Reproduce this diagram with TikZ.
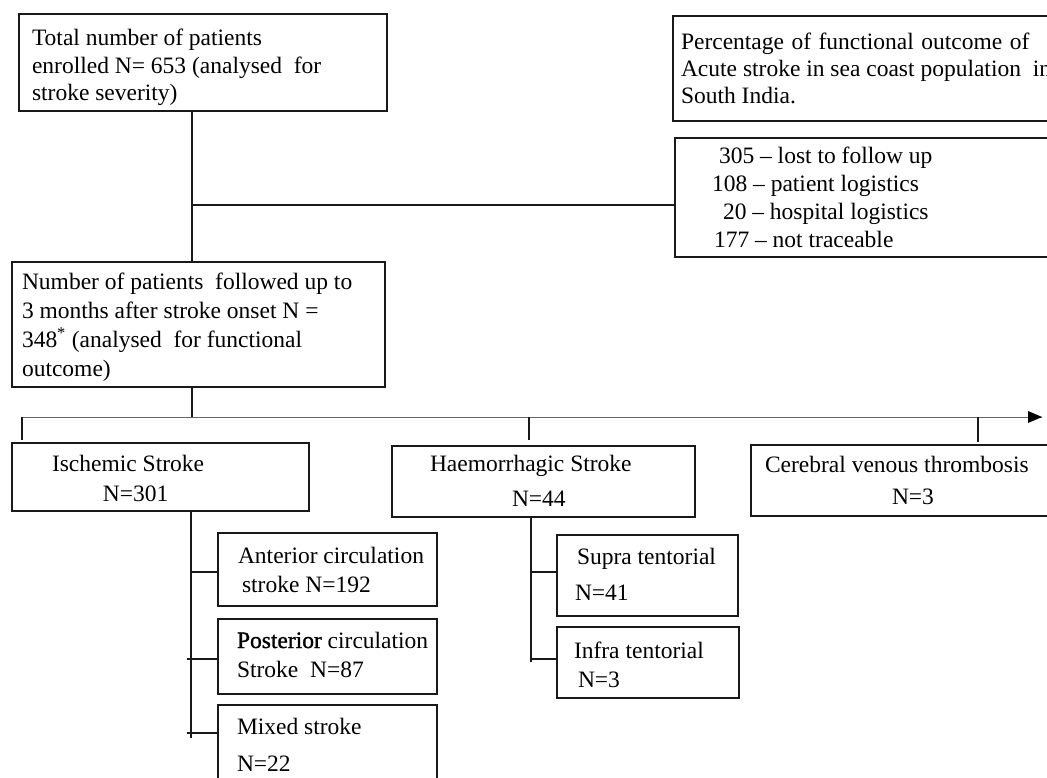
\documentclass[tikz,border=0pt]{standalone}
\usepackage{fontspec}
\setmainfont{Liberation Serif}
\newfontfamily\semibfont[FakeBold=1.2]{Liberation Serif}
\usetikzlibrary{arrows.meta,calc}
\newcommand\txtfs[1]{\fontsize{23.5}{#1}\selectfont}
\newcommand\mystrut{\rule{0pt}{20pt}}
\newcommand\wsp{\hspace{7.5pt}}
\begin{document}
\begin{tikzpicture}[x=1pt,y=-1pt,
  box/.style={draw=black!90, line width=1.5pt, rectangle, inner sep=0pt, outer sep=0pt, anchor=north west},
  txt/.style={anchor=north west, inner sep=0pt, outer sep=0pt, align=left, text=black},
  con/.style={line width=1.2pt, draw=black!90},
  busline/.style={line width=1pt, draw=black!60},
]
\useasboundingbox (0,0) rectangle (1047,778);
\clip (0,0) rectangle (1047,778);

% boxes
\node[box, minimum width=368pt, minimum height=97pt]  (total) at (19,14) {};
\node[box, minimum width=392pt, minimum height=105pt] (pct)   at (673,16) {};
\node[box, minimum width=390pt, minimum height=119pt] (lost)  at (675,138) {};
\node[box, minimum width=373pt, minimum height=125pt] (fu)    at (12,262) {};
\node[box, minimum width=297pt, minimum height=68pt]  (isch)  at (12,443) {};
\node[box, minimum width=303pt, minimum height=71pt]  (haem)  at (392,446) {};
\node[box, minimum width=314pt, minimum height=71pt]  (cvt)   at (751,445) {};
\node[box, minimum width=219pt, minimum height=73pt]  (ant)   at (218,533) {};
\node[box, minimum width=219pt, minimum height=75pt]  (post)  at (218,619) {};
\node[box, minimum width=219pt, minimum height=95pt]  (mixed) at (218,705) {};
\node[box, minimum width=181pt, minimum height=81pt]  (supra) at (557,535) {};
\node[box, minimum width=182pt, minimum height=71pt]  (infra) at (557,627) {};

% texts
\node[txt, font=\txtfs{27.5}] (totaltxt) at (32,26)
  {\mystrut Total number of patients\\enrolled N= 653 (analysed\ \ for\\stroke severity)};
\node[txt, font=\txtfs{27}] (pcttxt) at (681,30)
  {\mystrut Percentage\wsp of\wsp functional\wsp outcome\wsp of\\Acute stroke in sea coast population\ \ in\\South India.};
\node[txt, font=\txtfs{27.7}] (losttxt) at (712,144)
  {\mystrut\hspace*{7pt}305 – lost to follow up\\108 – patient logistics\\\hspace*{11pt}20 – hospital logistics\\\hspace*{2pt}177 – not traceable};
\node[txt, font=\txtfs{29.3}] (futxt) at (22,269)
  {\mystrut Number of patients\ \ followed up to\\3 months after stroke onset N =\\348\textsuperscript{*} (analysed\ \ for functional\\outcome)};
\node[txt, font=\txtfs{30}] (ischtxt) at (52,451)
  {\mystrut Ischemic Stroke\\\hspace*{51pt}N=301};
\node[txt, font=\txtfs{35}] (haemtxt) at (430,451)
  {\mystrut Haemorrhagic Stroke\\\hspace*{82pt}N=44};
\node[txt, font=\txtfs{32}] (cvttxt) at (765,452)
  {\mystrut Cerebral venous thrombosis\\\hspace*{127pt}N=3};
\node[txt, font=\txtfs{29}] (anttxt) at (238,543)
  {\mystrut Anterior circulation\\\hspace*{4pt}stroke N=192};
\node[txt, font=\txtfs{29}] (posttxt) at (237,628)
  {\mystrut{\semibfont Posterior} circulation\\Stroke\ \ N=87};
\node[txt, font=\txtfs{37}] (mixedtxt) at (237,714)
  {\mystrut Mixed stroke\\N=22};
\node[txt, font=\txtfs{36}] (supratxt) at (575,544)
  {\mystrut\hspace*{2pt}Supra tentorial\\N=41};
\node[txt, font=\txtfs{29}] (infratxt) at (574,638)
  {\mystrut Infra tentorial\\\hspace*{4pt}N=3};

% top connectors
\coordinate (j1) at (192,205);
\draw[con] (total.south -| j1) -- (fu.north -| j1);
\draw[con] (j1) -- (lost.west |- j1);

% bus
\coordinate (busL) at (22,417);
\coordinate (busM) at (192,417);
\coordinate (busR) at (1042,417);
\coordinate (tkH) at (529,417);
\coordinate (tkC) at (978,417);
\draw[con] (fu.south -| busM) -- (busM);
\draw[busline] (busL) -- (busR);
\fill[black] (busR) -- ++(-14,-6) -- ++(0,12) -- cycle;
\draw[con] (busL) -- ($(isch.north -| busL)+(0,-3)$);
\draw[con] (tkH) -- ($(haem.north -| tkH)+(0,-6)$);
\draw[con] (tkC) -- ($(cvt.north -| tkC)+(0,-3)$);

% ischemic subtree
\coordinate (ivend) at (191,738);
\coordinate (ib1) at (187,572);
\coordinate (ib2) at (187,659);
\coordinate (ib3) at (187,733);
\draw[con] (isch.south -| ivend) -- (ivend);
\draw[con] (ib1 -| ivend) -- (ant.west |- ib1);
\draw[con] (ib2) -- (post.west |- ib2);
\draw[con] (ib3) -- (mixed.west |- ib3);

% haemorrhagic subtree
\coordinate (hvend) at (531,662);
\coordinate (hb1) at (531,572);
\coordinate (hb2) at (531,659);
\draw[con] (haem.south -| hvend) -- (hvend);
\draw[con] (hb1) -- (supra.west |- hb1);
\draw[con] (hb2) -- (infra.west |- hb2);
\end{tikzpicture}
\end{document}
